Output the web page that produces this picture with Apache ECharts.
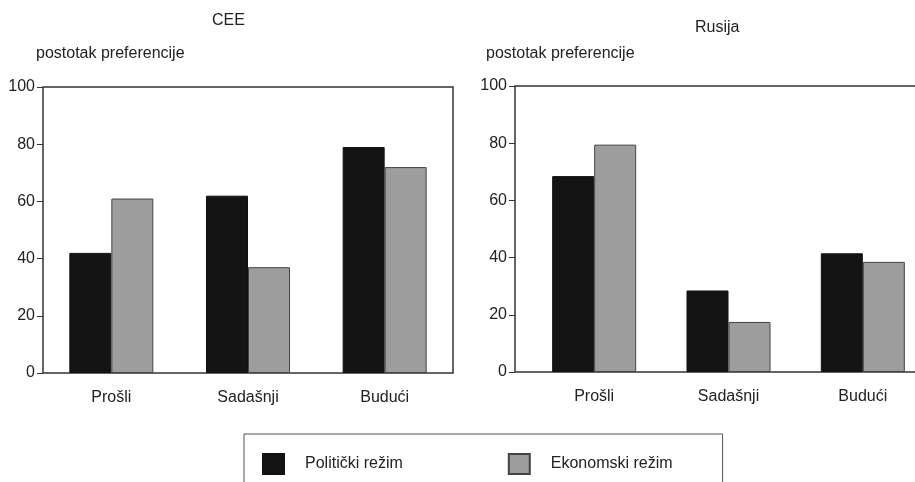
<!DOCTYPE html>
<html>
<head>
<meta charset="utf-8">
<script src="https://cdn.jsdelivr.net/npm/echarts@6/dist/echarts.min.js"></script>
<style>
html,body{margin:0;padding:0;background:#fff;}
#c{width:915px;height:482px;}
</style>
</head>
<body>
<div id="c"></div>
<script>
var categories = ['Prošli', 'Sadašnji', 'Budući'];
var ceePolitical = [42, 62, 79];
var ceeEconomic = [61, 37, 72];
var rusPolitical = [68.5, 28.5, 41.5];
var rusEconomic = [79.5, 17.5, 38.5];
var yMin = 0, yMax = 100, yStep = 20;
var seriesNames = ['Politički režim', 'Ekonomski režim'];

var FONT = 'Liberation Sans, Arial, sans-serif';
var TXT = '#222';
var FRAME = '#333';
var BLACK = '#141414';
var GREY = '#9d9d9d';

var chart = echarts.init(document.getElementById('c'));

function frameY(gi) {
  return {
    type: 'value', gridIndex: gi, min: yMin, max: yMax, interval: yStep,
    axisLine: {show: false},
    axisTick: {show: true, length: 6, lineStyle: {color: FRAME, width: 1}},
    splitLine: {show: false},
    axisLabel: {color: TXT, fontSize: 16, fontFamily: FONT, margin: 8}
  };
}
function hiddenY(gi) {
  return {type: 'value', gridIndex: gi, min: yMin, max: yMax, interval: yStep, show: false, splitLine: {show: false}};
}
function catX(gi, showLabels) {
  return {
    type: 'category', gridIndex: gi, data: categories,
    axisLine: {show: false}, axisTick: {show: false},
    show: showLabels,
    axisLabel: {color: TXT, fontSize: 16, fontFamily: FONT, margin: 17}
  };
}
function barSeries(name, data, gi, color, border) {
  return {
    type: 'bar', name: name, data: data, xAxisIndex: gi, yAxisIndex: gi,
    barWidth: 42, barGap: '0%',
    itemStyle: {color: color, borderColor: border, borderWidth: 1}
  };
}

var option = {
  backgroundColor: '#fff',
  animation: false,
  title: [
    {text: 'CEE', left: 207, top: 8, textStyle: {fontSize: 16, fontWeight: 'normal', color: TXT, fontFamily: FONT}},
    {text: 'postotak preferencije', left: 31, top: 41, textStyle: {fontSize: 16, fontWeight: 'normal', color: TXT, fontFamily: FONT}},
    {text: 'Rusija', left: 690, top: 15, textStyle: {fontSize: 16, fontWeight: 'normal', color: TXT, fontFamily: FONT}},
    {text: 'postotak preferencije', left: 481, top: 41, textStyle: {fontSize: 16, fontWeight: 'normal', color: TXT, fontFamily: FONT}}
  ],
  legend: {
    data: seriesNames,
    left: 244, top: 434,
    orient: 'horizontal',
    padding: [19, 50, 30, 18],
    itemWidth: 21, itemHeight: 20, itemGap: 105,
    icon: 'rect',
    borderColor: '#555', borderWidth: 1,
    selectedMode: false,
    textStyle: {color: TXT, fontSize: 16, fontFamily: FONT, padding: [0, 0, 0, 16]}
  },
  grid: [
    {left: 43, top: 87, width: 410, height: 286, show: true, borderColor: FRAME, borderWidth: 1.5, backgroundColor: 'transparent', outerBoundsMode: 'none', containLabel: false},
    {left: 515, top: 86, width: 415, height: 286, show: true, borderColor: FRAME, borderWidth: 1.5, backgroundColor: 'transparent', outerBoundsMode: 'none', containLabel: false},
    {left: 527, top: 86, width: 403, height: 286, outerBoundsMode: 'none', containLabel: false}
  ],
  xAxis: [catX(0, true), catX(1, false), catX(2, true)],
  yAxis: [frameY(0), frameY(1), hiddenY(2)],
  series: [
    barSeries(seriesNames[0], ceePolitical, 0, BLACK, '#111'),
    barSeries(seriesNames[1], ceeEconomic, 0, GREY, '#444'),
    barSeries(seriesNames[0], rusPolitical, 2, BLACK, '#111'),
    barSeries(seriesNames[1], rusEconomic, 2, GREY, '#444')
  ]
};
chart.setOption(option);
</script>
</body>
</html>
